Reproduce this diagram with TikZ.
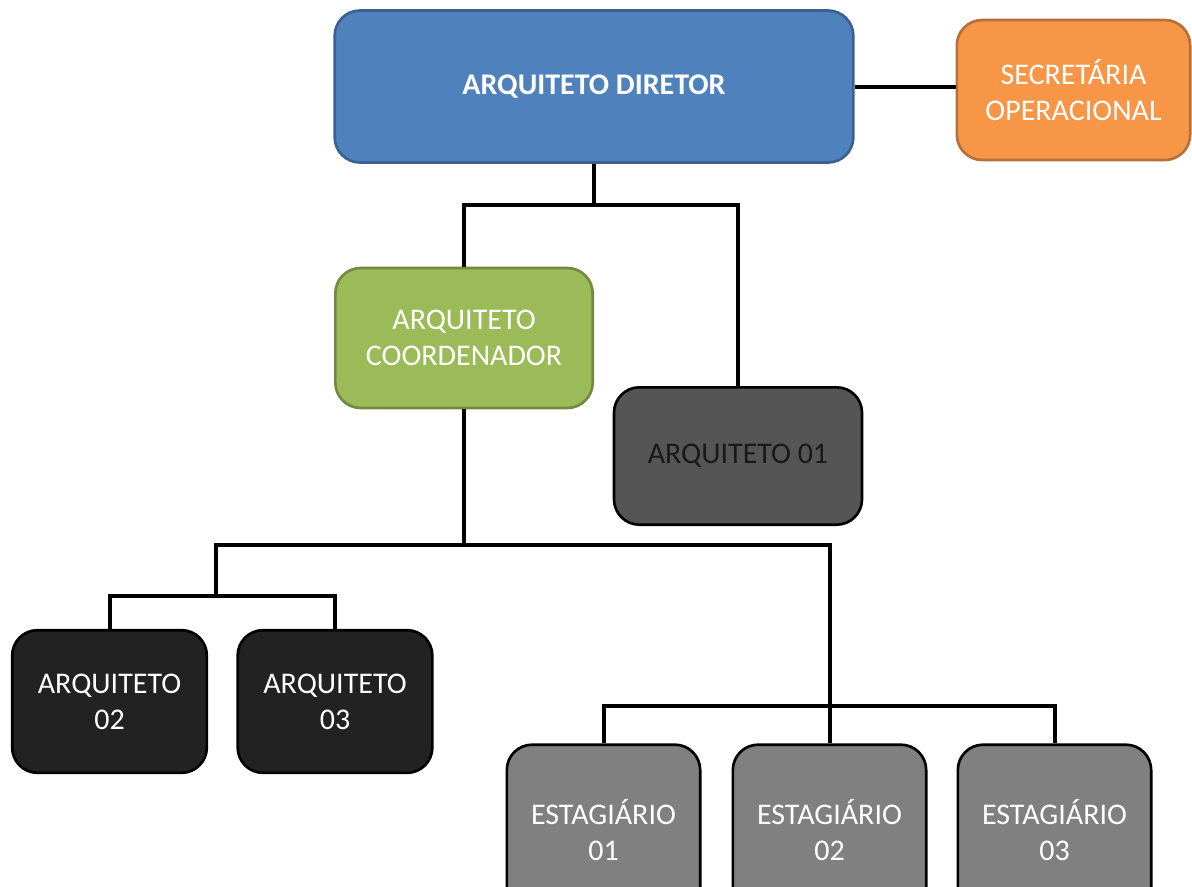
\documentclass[tikz,border=0pt]{standalone}
\usepackage{fontspec}
\setmainfont{Carlito}
\definecolor{dirblue}{HTML}{4F81BD}
\definecolor{dirblueedge}{HTML}{3A6190}
\definecolor{secorange}{HTML}{F79646}
\definecolor{secorangeedge}{HTML}{B7703A}
\definecolor{coordgreen}{HTML}{9BBB59}
\definecolor{coordgreenedge}{HTML}{73893F}
\definecolor{arqgray}{HTML}{555555}
\definecolor{arqdark}{HTML}{222222}
\definecolor{estgray}{HTML}{808080}
\tikzset{
  box/.style={rounded corners=19pt, line width=2pt, align=center,
    inner sep=0pt, text=white,
    font=\fontsize{22.5pt}{27pt}\selectfont},
  link/.style={line width=3pt, black},
}
\begin{document}
\begin{tikzpicture}[x=0.75pt, y=-0.75pt]
\useasboundingbox (0,0) rectangle (1192,886);

% boxes
\node[box, fill=dirblue, draw=dirblueedge, minimum width=389pt, minimum height=114pt,
  font=\fontsize{22.5pt}{27pt}\selectfont\bfseries] (dir) at (594,86.5) {ARQUITETO DIRETOR};
\node[box, fill=secorange, draw=secorangeedge, minimum width=175pt, minimum height=105pt]
  (sec) at (1073.5,90) {SECRETÁRIA\\OPERACIONAL};
\node[box, fill=coordgreen, draw=coordgreenedge, minimum width=193pt, minimum height=105pt]
  (coord) at (464,338) {ARQUITETO\\COORDENADOR};
\node[box, fill=arqgray, draw=black, text=black!90, minimum width=186pt, minimum height=103pt]
  (a01) at (738,456) {ARQUITETO 01};
\node[box, fill=arqdark, draw=black, minimum width=146pt, minimum height=107pt]
  (a02) at (109.5,701.5) {ARQUITETO\\02};
\node[box, fill=arqdark, draw=black, minimum width=146pt, minimum height=107pt]
  (a03) at (335,701.5) {ARQUITETO\\03};
\node[box, fill=estgray, draw=black, minimum width=145pt, minimum height=128pt]
  (e01) at (603.5,830) {ESTAGIÁRIO\\01};
\node[box, fill=estgray, draw=black, minimum width=145pt, minimum height=128pt]
  (e02) at (829.5,830) {ESTAGIÁRIO\\02};
\node[box, fill=estgray, draw=black, minimum width=145pt, minimum height=128pt]
  (e03) at (1054.5,830) {ESTAGIÁRIO\\03};

% bus junctions
\coordinate (b1) at (594,205);
\coordinate (b2) at (464,545);
\coordinate (b3) at (216,596);
\coordinate (b4) at (829.5,706);

% connectors
\draw[link] (dir.east) -- (dir.east -| sec.west);
\draw[link] (dir.south) -- (b1);
\draw[link] (coord.north) |- (b1) -| (a01.north);
\draw[link] (coord.south) -- (b2);
\draw[link] (b3) |- (b2) -| (e02.north);
\draw[link] (a02.north) |- (b3) -| (a03.north);
\draw[link] (e01.north) |- (b4) -| (e03.north);
\end{tikzpicture}
\end{document}
